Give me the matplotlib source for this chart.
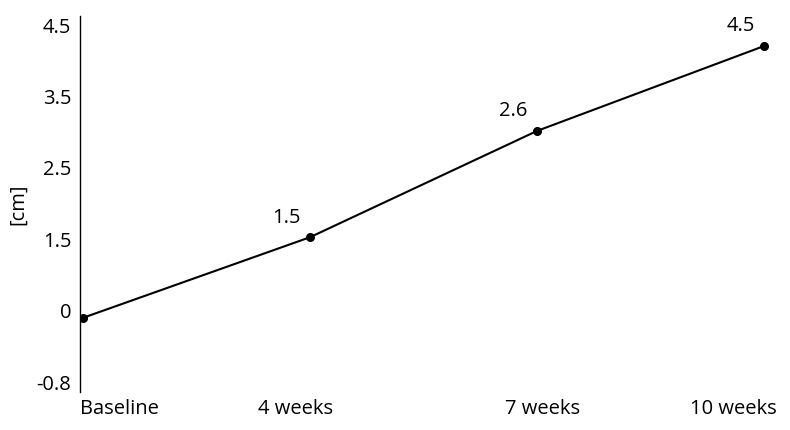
import numpy as np
from matplotlib import pyplot as plt
from matplotlib.transforms import ScaledTranslation

plt.rcParams['font.family'] = ['Open Sans', 'DejaVu Sans']

categories = ['Baseline', '4 weeks', '7 weeks', '10 weeks']
values = [-0.08, 1.53, 3.02, 4.21]
point_labels = ['', '1.5', '2.6', '4.5']
ytick_values = [-0.8, 0, 1.5, 2.5, 3.5, 4.5]

# y axis has evenly spaced ticks that are not linear in value
knots_val = np.array([-1.6] + ytick_values + [5.5])
knots_pos = np.arange(len(knots_val)) - 1.0


def forward(v):
    return np.interp(v, knots_val, knots_pos)


def inverse(p):
    return np.interp(p, knots_pos, knots_val)


fig = plt.figure(figsize=(7.9, 4.3), dpi=100)
ax = fig.add_axes([0.101, 0.088, 0.881, 0.875])
ax.set_yscale('function', functions=(forward, inverse))

x = np.arange(len(categories))
ax.plot(x, values, color='black', lw=1.5, marker='o', ms=5.5)

fs = 14.5
for xi, v, lab in zip(x, values, point_labels):
    if lab:
        ax.annotate(lab, (xi, v), xytext=(-17, 14), textcoords='offset points',
                    ha='center', va='center', fontsize=fs)

ax.set_xlim(-0.013, 3.05)
ax.set_ylim(-0.912, 4.63)
ax.set_yticks(ytick_values)
ax.set_yticklabels(['-0.8', '0', '1.5', '2.5', '3.5', '4.5'])
ax.set_xticks(x)
ax.set_xticklabels(categories)
ax.tick_params(axis='both', length=0, labelsize=fs)
ax.tick_params(axis='y', pad=6)
ax.tick_params(axis='x', pad=5)

tlabels = ax.get_xticklabels()
tlabels[0].set_ha('left')
tlabels[0].set_transform(tlabels[0].get_transform() + ScaledTranslation(-0.03, 0, fig.dpi_scale_trans))
tlabels[-1].set_ha('right')
tlabels[-1].set_transform(tlabels[-1].get_transform() + ScaledTranslation(0.12, 0, fig.dpi_scale_trans))
tlabels[1].set_transform(tlabels[1].get_transform() + ScaledTranslation(-0.14, 0, fig.dpi_scale_trans))
tlabels[2].set_transform(tlabels[2].get_transform() + ScaledTranslation(0.05, 0, fig.dpi_scale_trans))

for s in ['top', 'right', 'bottom']:
    ax.spines[s].set_visible(False)
ax.spines['left'].set_linewidth(1)

ax.set_ylabel('[cm]', fontsize=fs, labelpad=6)

plt.savefig('out.png', dpi=100)
